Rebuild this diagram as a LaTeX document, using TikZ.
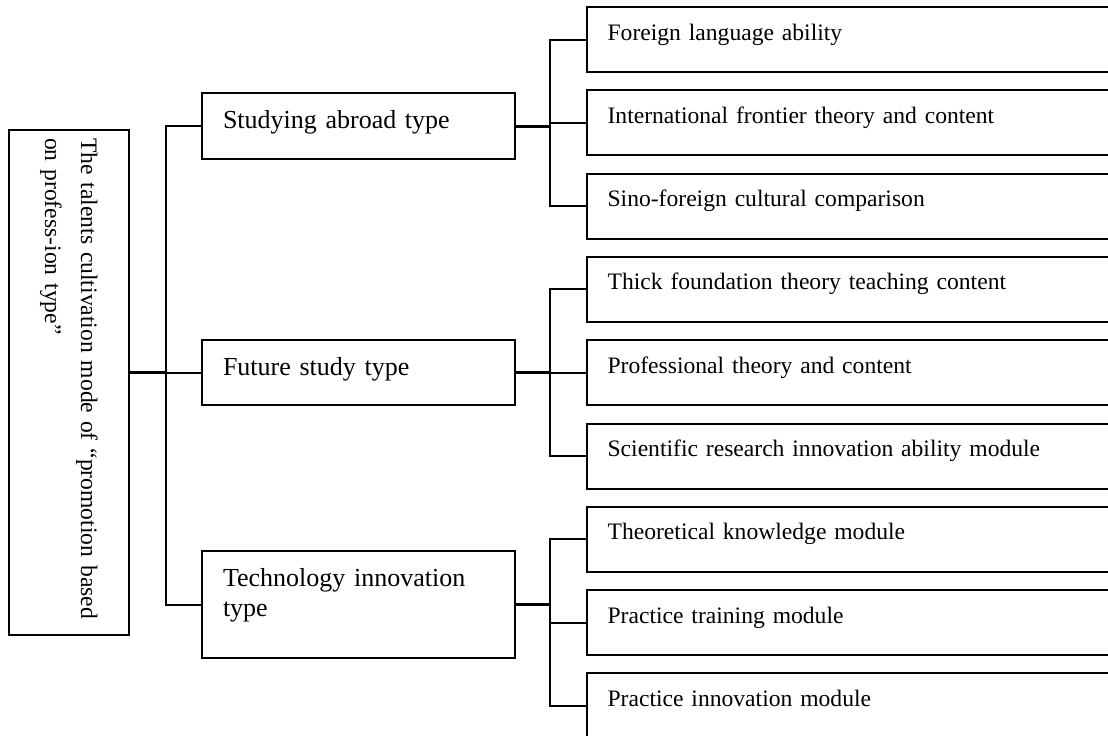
\documentclass[tikz,border=0pt]{standalone}
\usepackage{fontspec}
\setmainfont{Liberation Serif}
\usepackage{tikz}

\tikzset{
    rootbox/.style={draw, line width=1pt, rotate=-90, minimum width=252.5pt, minimum height=60pt,
        text width=244.5pt, align=left, inner xsep=4pt, font=\fontsize{11.8}{18}\selectfont},
    midbox/.style={draw, line width=1pt, anchor=north west, text width=135.5pt, align=left,
        inner xsep=10.5pt, inner ysep=0pt, text height=17.5pt, font=\fontsize{13}{15}\selectfont},
    subbox/.style={draw, line width=1pt, anchor=north west, text width=246.4pt, align=left,
        inner xsep=10.3pt, inner ysep=0pt, text height=16.5pt, text depth=16pt, font=\fontsize{11.8}{14}\selectfont},
    branch/.style={line width=1pt},
    trunk/.style={line width=1.5pt}
}

\begin{document}
\begin{tikzpicture}[x=0.5pt, y=-0.5pt]
    \useasboundingbox (0,0) rectangle (1108,735);

    \node[rootbox] (root) at (69,382.5) {\mbox{The talents cultivation mode of “promotion based}\\on profess-ion type”};

    \node[midbox, text depth=15.5pt] (study) at (201,92) {Studying abroad type};
    \node[midbox, text depth=15pt] (future) at (201,339) {Future study type};
    \node[midbox, text depth=36pt] (tech) at (201,550) {Technology innovation\\type};

    \foreach \txt [count=\i] in {Foreign language ability, International frontier theory and content,
            Sino-foreign cultural comparison, Thick foundation theory teaching content,
            Professional theory and content, Scientific research innovation ability module,
            Theoretical knowledge module, Practice training module, Practice innovation module} {
        \node[subbox] (sub\i) at (586,{6+83.3*(\i-1)}) {\txt};
    }

    % root to the three types
    \path (study.west) ++(-17.5pt,0) coordinate (bus0);
    \draw[branch] (study.west) -- (bus0) |- (tech.west);
    \draw[branch] (future.west) -- (bus0 |- future.west);
    \draw[trunk] (root.north |- future.west) -- (bus0 |- future.west);

    % each type to its modules
    \foreach \mid/\a/\b/\c in {study/1/2/3, future/4/5/6, tech/7/8/9} {
        \path (sub\a.west) ++(-18.25pt,0) coordinate (bus\a);
        \draw[branch] (sub\a.west) -- (bus\a) |- (sub\c.west);
        \draw[branch] (sub\b.west) -- (bus\a |- sub\b.west);
        \draw[trunk] (\mid.east) -- (bus\a |- \mid.east);
    }
\end{tikzpicture}
\end{document}
